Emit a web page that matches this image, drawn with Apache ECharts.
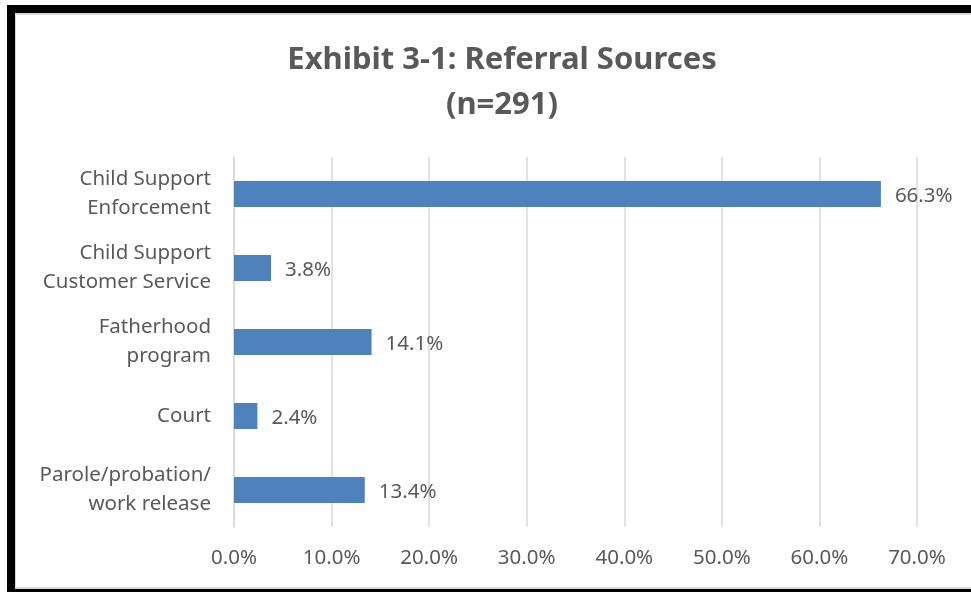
<!DOCTYPE html>
<html>
<head>
<meta charset="utf-8">
<script src="https://cdn.jsdelivr.net/npm/echarts@6/dist/echarts.min.js"></script>
<style>
  html, body { margin: 0; padding: 0; background: #fff; }
  #wrap { position: relative; width: 971px; height: 592px; overflow: hidden; }
  #main { position: absolute; left: 0; top: 0; width: 971px; height: 592px; }
  /* black frame round the picture, with the thin grey chart border inside it */
  #frame { position: absolute; left: 7px; top: 5px; width: 980px; height: 587px;
           border-left: 8px solid #000; border-top: 8px solid #000; border-bottom: 3px solid #000;
           box-sizing: border-box; pointer-events: none; }
  #inner { position: absolute; left: 15px; top: 13px; width: 980px; height: 576px;
           border-left: 1px solid #d9d9d9; border-top: 2px solid #d9d9d9; border-bottom: 2px solid #d9d9d9;
           box-sizing: border-box; pointer-events: none; }
</style>
</head>
<body>
<div id="wrap">
  <div id="main"></div>
  <div id="frame"></div>
  <div id="inner"></div>
</div>
<script>
// 数据
const categories = ['Child Support\nEnforcement', 'Child Support\nCustomer Service', 'Fatherhood\nprogram', 'Court', 'Parole/probation/\nwork release'];
const shares = [66.3, 3.8, 14.1, 2.4, 13.4];
const xTicks = [0, 10, 20, 30, 40, 50, 60, 70];

const font = 'Noto Sans';
const grey = '#595959';

let myChart = echarts.init(document.getElementById('main'));
let option = {
    animation: false,
    title: {
        text: 'Exhibit 3-1: Referral Sources\n(n=291)',
        left: 497,
        top: 33,
        textAlign: 'center',
        textStyle: {
            fontFamily: font,
            fontSize: 31,
            fontWeight: 'bold',
            color: grey,
            lineHeight: 45
        }
    },
    grid: {
        left: 234,
        right: 54,
        top: 157,
        bottom: 65
    },
    xAxis: {
        type: 'value',
        min: xTicks[0],
        max: xTicks[xTicks.length - 1],
        interval: 10,
        axisLine: { show: false },
        axisTick: { show: false },
        splitLine: { lineStyle: { color: '#d9d9d9', width: 1.5 } },
        axisLabel: {
            margin: 21,
            fontFamily: font,
            fontSize: 20.5,
            color: grey,
            formatter: v => v.toFixed(1) + '%'
        }
    },
    yAxis: {
        type: 'category',
        data: categories,
        inverse: true,
        axisLine: { lineStyle: { color: '#d9d9d9', width: 1.5 } },
        axisTick: { show: false },
        axisLabel: {
            margin: 23,
            padding: [4, 0, 0, 0],
            fontFamily: font,
            fontSize: 20.5,
            lineHeight: 29,
            color: grey,
            align: 'right'
        }
    },
    series: [{
        type: 'bar',
        data: shares,
        barWidth: 26,
        itemStyle: { color: '#4f81bd' },
        label: {
            show: true,
            position: 'right',
            distance: 14,
            offset: [0, 2],
            fontFamily: font,
            fontSize: 20.5,
            color: grey,
            formatter: p => p.value.toFixed(1) + '%'
        }
    }]
};
myChart.setOption(option);
</script>
</body>
</html>
